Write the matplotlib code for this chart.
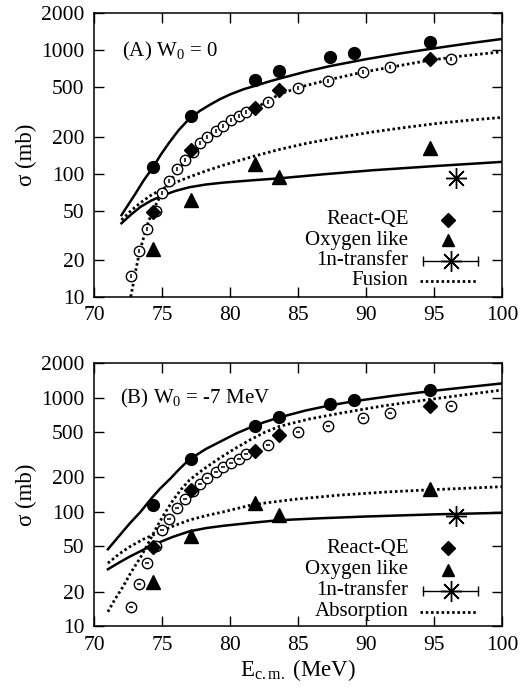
import matplotlib
matplotlib.use("Agg")
import matplotlib.pyplot as plt

plt.rcParams["font.family"] = ["Liberation Serif", "DejaVu Serif"]
plt.rcParams["mathtext.fontset"] = "custom"
plt.rcParams["mathtext.rm"] = "Liberation Serif"
plt.rcParams["mathtext.it"] = "Liberation Serif:italic"

# measured cross sections (same in both panels)
e_tot = [74.3, 77.1, 81.8, 83.6, 87.3, 89.1, 94.7]
sig_tot = [114, 292, 570, 675, 880, 950, 1170]

e_qe = [74.3, 77.1, 81.8, 83.6, 94.7]
sig_qe = [49, 156, 341, 475, 845]

e_ox = [74.3, 77.1, 81.8, 83.6, 94.7]
sig_ox = [24.5, 61, 120, 94, 160]

e_1n = [96.6]
sig_1n = [92]

e_fus = [72.72, 73.26, 73.84, 74.51, 74.96, 75.51, 76.08, 76.68, 77.25, 77.75,
         78.32, 78.92, 79.49, 80.07, 80.62, 81.16, 82.78, 84.98, 87.17, 89.76,
         91.75, 96.19]
sig_fus = [14.7, 23.3, 35.6, 50, 69, 87, 108, 129, 151, 177,
           198, 222, 245, 270, 292, 318, 382, 497, 563, 666,
           731, 850]

# calculations, W0 = 0
a_tot_e = [72.0, 72.5, 73.0, 73.6, 74.3, 74.9, 75.5, 76.2, 77.0, 77.8, 78.5,
           79.2, 80.0, 81.0, 81.8, 82.7, 83.6, 85.5, 87.3, 90.0, 92.5, 95.0,
           97.5, 100.0]
a_tot_s = [46, 56, 68, 87, 112, 143, 178, 225, 280, 325, 362,
           400, 440, 485, 515, 553, 590, 670, 745, 850, 945, 1040,
           1140, 1240]

a_oxl_e = [72.0, 72.7, 73.4, 74.2, 75.1, 76.0, 77.0, 78.2, 79.5, 81.5, 83.6,
           87.0, 90.5, 95.0, 100.0]
a_oxl_s = [39.5, 46.5, 53.7, 60.5, 66.8, 72.5, 77.5, 81.5, 84.5, 88, 91.5,
           99, 106.5, 115, 124.5]

a_fus_e = [72.68, 72.85, 73.0, 73.25, 73.5, 73.85, 74.2, 74.6, 75.0, 75.6,
           76.3, 76.9, 77.5, 78.4, 79.5, 80.5, 81.5, 82.5, 83.6, 85.0, 87.3,
           89.8, 91.7, 94.7, 97.0, 100.0]
a_fus_s = [10, 12.5, 15.5, 21, 27, 37, 47, 58, 70, 88,
           111, 133, 156, 195, 240, 280, 322, 375, 440, 500, 580,
           668, 728, 834, 900, 975]

a_fus2_e = [72.0, 72.7, 73.4, 74.2, 75.1, 76.0, 77.0, 78.2, 79.5, 81.5,
            83.5, 85.6, 88.0, 90.5, 93.0, 95.4, 97.7, 100.0]
a_fus2_s = [42, 50, 58, 67, 76, 85, 94, 105, 117, 136,
            156, 176, 197, 218, 238, 257, 272, 286]

# calculations, W0 = -7 MeV
b_tot_e = [71.0, 71.8, 72.6, 73.4, 74.1, 74.8, 75.6, 76.3, 77.0, 78.2, 79.5,
           80.5, 81.5, 82.5, 83.6, 85.5, 87.3, 89.2, 92.0, 94.7, 97.5, 100.0]
b_tot_s = [47, 61, 79, 100, 127, 158, 196, 240, 288, 355, 426,
           490, 550, 610, 671, 770, 855, 935, 1040, 1140, 1240, 1334]

b_abs_e = [71.0, 71.5, 72.1, 72.7, 73.4, 74.0, 74.6, 75.2, 75.8, 76.4, 77.0,
           78.0, 79.0, 80.2, 81.5, 82.5, 83.6, 85.8, 88.0, 91.3, 94.7, 97.5,
           100.0]
b_abs_s = [13.3, 17, 22, 29.5, 40, 54, 74, 98, 127, 158, 190,
           235, 284, 350, 430, 495, 560, 650, 728, 850, 966, 1070,
           1167]

b_abs2_e = [71.0, 71.8, 72.6, 73.6, 74.6, 75.8, 77.0, 78.2, 79.5, 81.7,
            84.8, 88.0, 91.4, 94.7, 97.4, 100.0]
b_abs2_s = [35.5, 42.5, 49.4, 57.5, 64.8, 75, 84.8, 92.5, 100, 116,
            129, 140, 149, 156, 161, 166]

b_oxl_e = [71.0, 71.8, 72.6, 73.6, 74.6, 75.8, 77.0, 78.2, 79.5, 81.5,
           83.6, 86.8, 90.0, 95.0, 100.0]
b_oxl_s = [31.4, 35.8, 40.5, 46.5, 53, 60.5, 67.5, 72, 75.5, 80,
           84.5, 88, 91, 95, 98]

yticks = [10, 20, 50, 100, 200, 500, 1000, 2000]
xticks = [70, 75, 80, 85, 90, 95, 100]

FS_TICK = 15.5
FS_KEY = 15
FS_LAB = 16.5
FS_PANEL = 15
DOT = (0, (0.9, 1.0))

fig = plt.figure(figsize=(5.31, 6.92), dpi=100)
ax_a = fig.add_axes([0.1776, 0.5712, 0.7684, 0.4095])
ax_b = fig.add_axes([0.1776, 0.0954, 0.7684, 0.3796])


def style_axes(ax):
    ax.set_yscale("log")
    ax.set_xlim(70, 100)
    ax.set_ylim(10, 2000)
    ax.set_yticks(yticks)
    ax.set_yticklabels([str(v) for v in yticks])
    ax.minorticks_off()
    ax.set_xticks(xticks)
    ax.set_xticklabels([str(v) for v in xticks])
    ax.tick_params(direction="in", top=True, right=True, length=7, width=1,
                   labelsize=FS_TICK, pad=7)
    for sp in ax.spines.values():
        sp.set_linewidth(1.1)
    ax.set_ylabel("\u03c3 (mb)", fontsize=FS_LAB, labelpad=3)


def draw_data(ax, inner):
    ax.plot(e_fus, sig_fus, "o", ms=7.5, mfc="white", mec="k", mew=1.0, zorder=4)
    ax.plot(e_fus, sig_fus, inner, ms=3.5, color="k", mew=1.1, zorder=5)
    ax.plot(e_tot, sig_tot, "o", ms=8.5, color="k", zorder=6)
    ax.plot(e_qe, sig_qe, "D", ms=7.5, color="k", zorder=6)
    ax.plot(e_ox, sig_ox, "^", ms=9.5, color="k", zorder=6)
    ax.plot(e_1n, sig_1n, marker=(8, 2, 0), ms=15, color="k", mew=1.0,
            ls="none", zorder=6)


def draw_key(ax, rows, last_label):
    tx, mx = 0.770, 0.868
    ax.text(tx, rows[0], "React-QE", transform=ax.transAxes, ha="right",
            va="center", fontsize=FS_KEY)
    ax.plot([mx], [rows[0]], "D", ms=7, color="k", transform=ax.transAxes)
    ax.text(tx, rows[1], "Oxygen like", transform=ax.transAxes, ha="right",
            va="center", fontsize=FS_KEY)
    ax.plot([mx], [rows[1]], "^", ms=9, color="k", transform=ax.transAxes)
    ax.text(tx, rows[2], "1n-transfer", transform=ax.transAxes, ha="right",
            va="center", fontsize=FS_KEY)
    ax.plot([0.805, 0.941], [rows[2]] * 2, "-", color="k", lw=1.0,
            transform=ax.transAxes)
    ax.plot([0.805, 0.941], [rows[2]] * 2, "|", ms=7, mew=1.0, color="k",
            transform=ax.transAxes)
    ax.plot([0.873], [rows[2]], marker=(8, 2, 0), ms=15, mew=1.0, color="k",
            transform=ax.transAxes)
    ax.text(tx, rows[3], last_label, transform=ax.transAxes, ha="right",
            va="center", fontsize=FS_KEY)
    ax.plot([0.798, 0.937], [rows[3]] * 2, color="k", lw=2.0, ls=DOT,
            transform=ax.transAxes)


# (A) W0 = 0
style_axes(ax_a)
ax_a.plot(a_tot_e, a_tot_s, "-", color="k", lw=1.8, zorder=3)
ax_a.plot(a_oxl_e, a_oxl_s, "-", color="k", lw=1.8, zorder=3)
ax_a.plot(a_fus_e, a_fus_s, color="k", lw=2.0, ls=DOT, zorder=3)
ax_a.plot(a_fus2_e, a_fus2_s, color="k", lw=2.0, ls=DOT, zorder=3)
draw_data(ax_a, "|")
ax_a.text(0.067, 0.864, r"(A) $\mathrm{W}_0$ = 0", transform=ax_a.transAxes,
          ha="left", va="center", fontsize=FS_PANEL)
draw_key(ax_a, [0.271, 0.200, 0.127, 0.056], "Fusion")

# (B) W0 = -7 MeV
style_axes(ax_b)
ax_b.plot(b_tot_e, b_tot_s, "-", color="k", lw=1.8, zorder=3)
ax_b.plot(b_oxl_e, b_oxl_s, "-", color="k", lw=1.8, zorder=3)
ax_b.plot(b_abs_e, b_abs_s, color="k", lw=2.0, ls=DOT, zorder=3)
ax_b.plot(b_abs2_e, b_abs2_s, color="k", lw=2.0, ls=DOT, zorder=3)
draw_data(ax_b, "_")
ax_b.text(0.063, 0.867, r"(B) $\mathrm{W}_0$ = -7 MeV", transform=ax_b.transAxes,
          ha="left", va="center", fontsize=FS_PANEL)
draw_key(ax_b, [0.296, 0.215, 0.135, 0.055], "Absorption")
ax_b.set_xlabel(r"E$_{\mathrm{c.m.}}$ (MeV)", fontsize=FS_LAB, labelpad=2)

fig.savefig("out.png", dpi=100)
